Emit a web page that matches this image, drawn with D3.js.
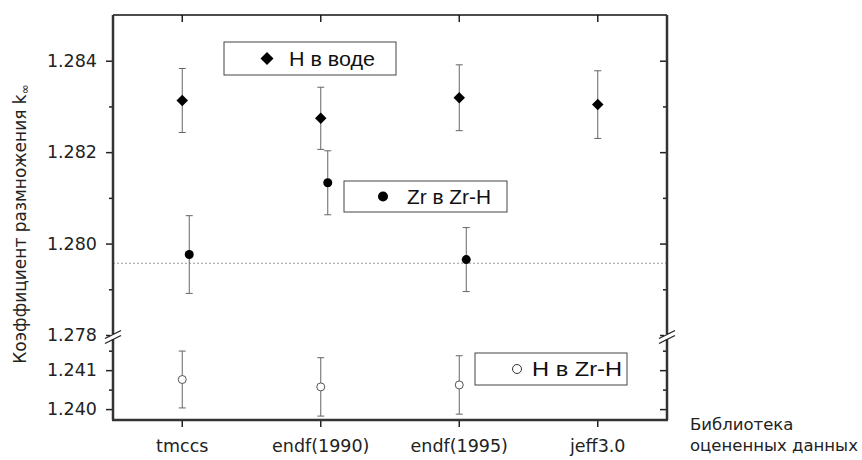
<!DOCTYPE html>
<html>
<head>
<meta charset="utf-8">
<script src="https://cdn.jsdelivr.net/npm/d3@7"></script>
<style>
  body { margin: 0; background: #fff; }
  .tick text { font-family: "DejaVu Sans", sans-serif; font-size: 17.5px; fill: #222; }
</style>
</head>
<body>
<div id="chart"></div>
<script>
var libraries = ["tmccs", "endf(1990)", "endf(1995)", "jeff3.0"];

// H в воде
var hWaterK   = [1.28313, 1.28274, 1.28319, 1.28304];
var hWaterErr = [0.00070, 0.00068, 0.00072, 0.00074];
// Zr в Zr-H
var zrK   = [1.27976, 1.28133, 1.27965, null];
var zrErr = [0.00085, 0.00070, 0.00070, null];
// H в Zr-H
var hZrK   = [1.24076, 1.24057, 1.24062, null];
var hZrErr = [0.00073, 0.00075, 0.00075, null];

var refLine = 1.27957;

var upperDomain = [1.278, 1.285];
var lowerDomain = [1.23972, 1.2418];
var upperTicks = [1.278, 1.279, 1.280, 1.281, 1.282, 1.283, 1.284];
var upperLabels = [1.278, 1.280, 1.282, 1.284];
var lowerTicks = [1.240, 1.2405, 1.241, 1.2415];
var lowerLabels = [1.240, 1.241];

var svgWidth = 862, svgHeight = 460;
var plotLeft = 113, plotRight = 667, plotTop = 15, plotBottom = 420;
var breakY = 337;

var svg = d3.select("#chart").append("svg")
  .attr("width", svgWidth)
  .attr("height", svgHeight);

var x = d3.scaleBand()
  .domain(libraries)
  .range([plotLeft, plotRight]);
var xc = d => x(d) + x.bandwidth() / 2;

var yUp = d3.scaleLinear().domain(upperDomain).range([335, plotTop]);
var yLow = d3.scaleLinear().domain(lowerDomain).range([plotBottom, 339]);

// dotted reference line
svg.append("line")
  .attr("x1", plotLeft).attr("x2", plotRight)
  .attr("y1", yUp(refLine)).attr("y2", yUp(refLine))
  .attr("stroke", "#999").attr("stroke-width", 1)
  .attr("stroke-dasharray", "2,2");

var isIn = (arr, d) => arr.some(v => Math.abs(v - d) < 1e-7);

// left axis (ticks outside), right axis (ticks inside)
function yAxis(scale, ticks, labels, side) {
  var g = svg.append("g")
    .attr("transform", `translate(${side === "left" ? plotLeft : plotRight},0)`)
    .call(d3.axisLeft(scale).tickValues(ticks).tickSize(7).tickPadding(9)
      .tickFormat(side === "left" ? d3.format(".3f") : ""));
  g.select(".domain").remove();
  g.selectAll(".tick line").attr("stroke", "#222").attr("stroke-width", 1.5)
    .attr("x2", d => isIn(labels, d) ? -7 : -4);
  g.selectAll(".tick text").filter(d => !isIn(labels, d)).remove();
  return g;
}
yAxis(yUp, upperTicks, upperLabels, "left");
yAxis(yLow, lowerTicks, lowerLabels, "left");
yAxis(yUp, upperTicks, upperLabels, "right");
yAxis(yLow, lowerTicks, lowerLabels, "right");

var bottomAxis = svg.append("g").attr("transform", `translate(0,${plotBottom})`)
  .call(d3.axisBottom(x).tickSize(7).tickPadding(13));
bottomAxis.select(".domain").remove();
bottomAxis.selectAll(".tick line").attr("stroke", "#222").attr("stroke-width", 1.5);

var topAxis = svg.append("g").attr("transform", `translate(0,${plotTop})`)
  .call(d3.axisBottom(x).tickSize(7).tickFormat(""));
topAxis.select(".domain").remove();
topAxis.selectAll(".tick line").attr("stroke", "#222").attr("stroke-width", 1.5);

// frame
svg.append("line").attr("x1", plotLeft).attr("x2", plotRight).attr("y1", plotTop).attr("y2", plotTop)
  .attr("stroke", "#111").attr("stroke-width", 1.5);
svg.append("line").attr("x1", plotLeft - 1).attr("x2", plotRight + 1).attr("y1", plotBottom).attr("y2", plotBottom)
  .attr("stroke", "#333").attr("stroke-width", 2.5);
[plotLeft, plotRight].forEach(function(xx) {
  svg.append("line").attr("x1", xx).attr("x2", xx).attr("y1", plotTop).attr("y2", plotBottom)
    .attr("stroke", "#333").attr("stroke-width", 2.5);
  // axis break
  svg.append("rect").attr("x", xx - 3).attr("y", breakY - 3).attr("width", 6).attr("height", 5)
    .attr("fill", "#fff");
  [-2.5, 2.5].forEach(function(dy) {
    svg.append("line")
      .attr("x1", xx - 8).attr("y1", breakY + dy + 4)
      .attr("x2", xx + 8).attr("y2", breakY + dy - 4)
      .attr("stroke", "#222").attr("stroke-width", 1.3);
  });
});

// error bars + markers
function errorBars(values, errs, scale, dx) {
  var pts = libraries.map((lib, i) => ({lib: lib, v: values[i], e: errs[i]}))
    .filter(d => d.v !== null);
  var g = svg.append("g").attr("stroke", "#666").attr("stroke-width", 1);
  g.selectAll(".bar").data(pts).enter().append("line")
    .attr("x1", d => xc(d.lib) + dx).attr("x2", d => xc(d.lib) + dx)
    .attr("y1", d => scale(d.v + d.e)).attr("y2", d => scale(d.v - d.e));
  g.selectAll(".capT").data(pts).enter().append("line")
    .attr("x1", d => xc(d.lib) + dx - 3.5).attr("x2", d => xc(d.lib) + dx + 3.5)
    .attr("y1", d => scale(d.v + d.e)).attr("y2", d => scale(d.v + d.e));
  g.selectAll(".capB").data(pts).enter().append("line")
    .attr("x1", d => xc(d.lib) + dx - 3.5).attr("x2", d => xc(d.lib) + dx + 3.5)
    .attr("y1", d => scale(d.v - d.e)).attr("y2", d => scale(d.v - d.e));
  return pts;
}

// square rotated 45° -> diamond
var diamond = d3.symbol().type(d3.symbolSquare).size(66);
var diamondBig = d3.symbol().type(d3.symbolSquare).size(84);

var p1 = errorBars(hWaterK, hWaterErr, yUp, 0);
svg.selectAll(".hw").data(p1).enter().append("path")
  .attr("d", diamond)
  .attr("transform", d => `translate(${xc(d.lib)},${yUp(d.v)}) rotate(45)`)
  .attr("fill", "#000");

var p2 = errorBars(zrK, zrErr, yUp, 7);
svg.selectAll(".zr").data(p2).enter().append("circle")
  .attr("cx", d => xc(d.lib) + 7).attr("cy", d => yUp(d.v))
  .attr("r", 4.5).attr("fill", "#000");

var p3 = errorBars(hZrK, hZrErr, yLow, 0);
svg.selectAll(".hz").data(p3).enter().append("circle")
  .attr("cx", d => xc(d.lib)).attr("cy", d => yLow(d.v))
  .attr("r", 4).attr("fill", "#fff").attr("stroke", "#555").attr("stroke-width", 1);

// legends
function legendBox(x0, y0, w, h, markX, textX, textW, label, drawMark) {
  var g = svg.append("g").attr("transform", `translate(${x0},${y0})`);
  g.append("rect").attr("width", w).attr("height", h)
    .attr("fill", "#fff").attr("stroke", "#444").attr("stroke-width", 1);
  drawMark(g, markX, h / 2);
  g.append("text").attr("x", textX).attr("y", h / 2 + 7)
    .attr("font-family", "Liberation Sans, Arial, sans-serif")
    .attr("font-size", 19.5).attr("fill", "#111")
    .attr("textLength", textW).attr("lengthAdjust", "spacingAndGlyphs")
    .text(label);
}
legendBox(224, 42, 172, 33, 43, 65, 86, "H в воде", function(g, cx, cy) {
  g.append("path").attr("d", diamondBig)
    .attr("transform", `translate(${cx},${cy}) rotate(45)`).attr("fill", "#000");
});
legendBox(344, 181, 163, 31, 39, 63, 84, "Zr в Zr-H", function(g, cx, cy) {
  g.append("circle").attr("cx", cx).attr("cy", cy).attr("r", 5).attr("fill", "#000");
});
legendBox(475, 353, 152, 32, 42, 57, 90, "H в Zr-H", function(g, cx, cy) {
  g.append("circle").attr("cx", cx).attr("cy", cy).attr("r", 4.5)
    .attr("fill", "#fff").attr("stroke", "#333").attr("stroke-width", 1);
});

// axis titles
var yTitle = svg.append("text")
  .attr("transform", "translate(26,224) rotate(-90)")
  .attr("text-anchor", "middle")
  .attr("font-family", "DejaVu Sans, sans-serif")
  .attr("font-size", 17).attr("fill", "#222");
yTitle.append("tspan").text("Коэффициент размножения k");
yTitle.append("tspan").attr("font-size", 12).attr("dy", 3).text("∞");

var xTitle = svg.append("text")
  .attr("font-family", "DejaVu Sans, sans-serif")
  .attr("font-size", 16.5).attr("fill", "#222");
xTitle.append("tspan").attr("x", 690).attr("y", 430).text("Библиотека");
xTitle.append("tspan").attr("x", 690).attr("y", 451).text("оцененных данных");
</script>
</body>
</html>
